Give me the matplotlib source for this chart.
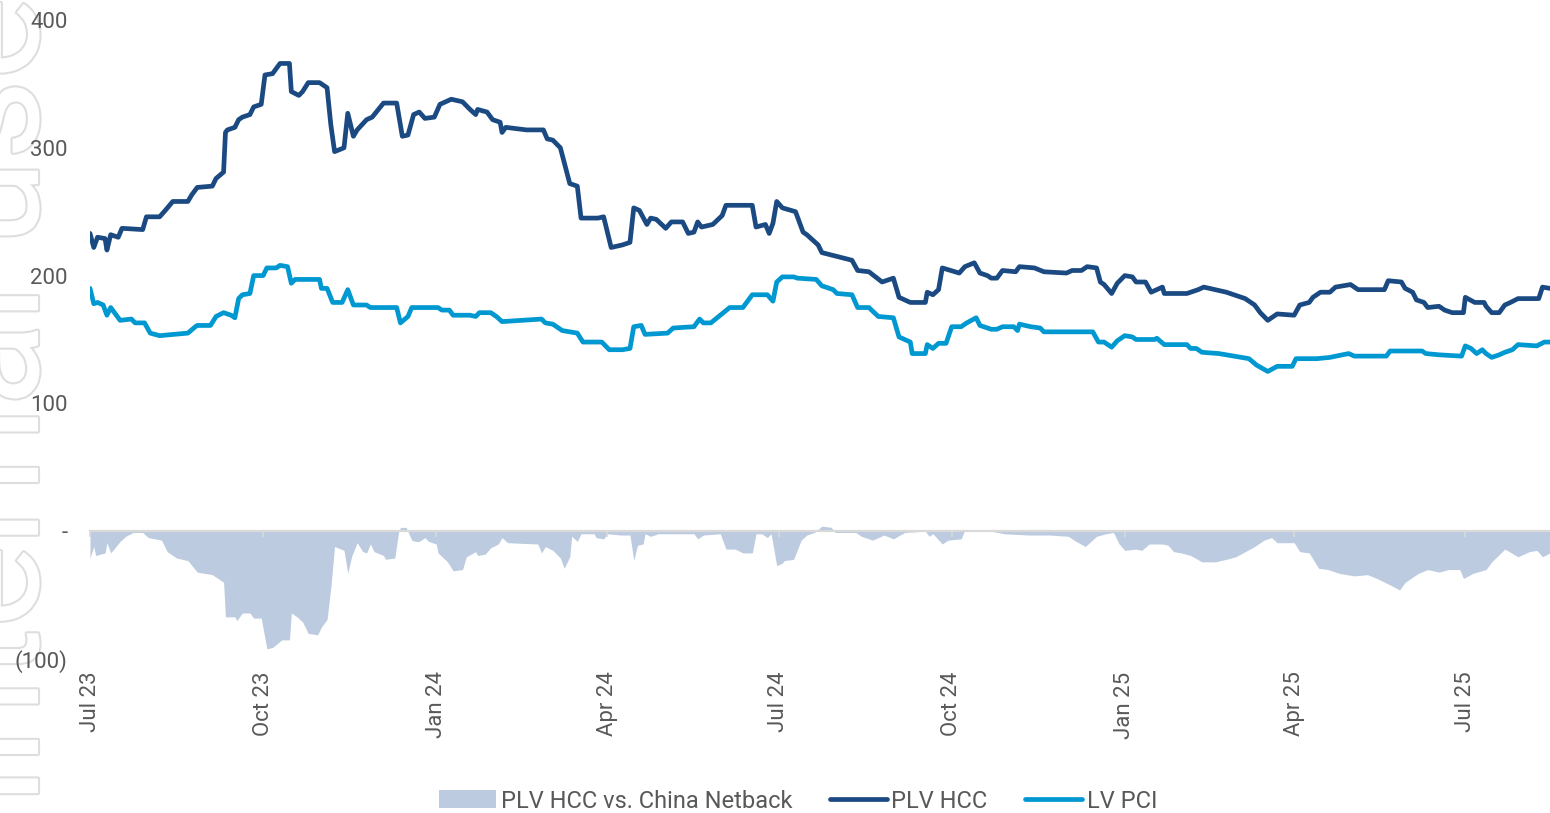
import numpy as np
import pandas as pd
import matplotlib
matplotlib.use("Agg")
import matplotlib.pyplot as plt
import matplotlib.patheffects as pe
from matplotlib.ticker import FuncFormatter
from matplotlib.lines import Line2D
from matplotlib.patches import Patch

# series are given as (days since 1 Jul 2023, value)
start = pd.Timestamp("2023-07-01")
end_day = 776

hcc_days = [0, 2, 4, 8, 9, 11, 15, 17, 28, 30, 37, 40, 44, 52, 54, 57, 65, 67, 71, 72,
            73, 77, 79, 81, 85, 87, 91, 93, 97, 99, 101, 106, 107, 111, 113, 116, 122, 126, 128, 130,
            135, 137, 140, 142, 147, 150, 156, 163, 166, 169, 172, 175, 178, 183, 186, 192, 198, 202, 205, 206,
            211, 214, 218, 219, 221, 232, 241, 243, 246, 250, 255, 259, 261, 270, 273, 277, 283, 287, 289, 292,
            296, 298, 301, 306, 309, 315, 318, 321, 323, 325, 331, 336, 338, 352, 354, 359, 361, 363, 365, 368,
            375, 379, 381, 387, 389, 397, 405, 408, 414, 421, 427, 430, 436, 444, 445, 448, 451, 453, 462, 465,
            470, 473, 477, 479, 482, 485, 492, 494, 502, 507, 519, 522, 527, 530, 535, 537, 539, 543, 546, 550,
            554, 556, 561, 564, 570, 571, 583, 589, 592, 598, 604, 614, 619, 622, 626, 631, 640, 643, 648, 650,
            654, 659, 662, 670, 674, 688, 690, 697, 699, 703, 705, 709, 711, 717, 720, 724, 730, 731, 736, 741,
            742, 745, 749, 752, 755, 759, 770, 772, 776]
hcc_vals = [233, 222, 230, 229, 220, 232, 230, 237, 236, 246, 246, 251, 258, 258, 263, 269, 270, 276, 281, 312,
            314, 316, 322, 324, 326, 332, 334, 357, 358, 362, 366, 366, 344, 341, 344, 351, 351, 347, 318, 297,
            300, 327, 309, 314, 322, 324, 335, 335, 309, 310, 326, 328, 323, 324, 334, 338, 336, 330, 326, 330,
            328, 322, 320, 312, 316, 314, 314, 307, 306, 300, 272, 270, 245, 245, 246, 222, 224, 226, 253, 251,
            240, 245, 244, 237, 242, 242, 233, 234, 242, 238, 240, 247, 255, 255, 238, 240, 233, 241, 258, 253,
            250, 234, 232, 224, 218, 215, 212, 204, 203, 195, 198, 183, 179, 179, 187, 185, 189, 206, 202, 207,
            210, 202, 200, 198, 198, 204, 203, 207, 206, 203, 202, 204, 204, 207, 206, 195, 193, 186, 194, 200,
            199, 195, 195, 187, 191, 186, 186, 189, 191, 189, 187, 182, 177, 171, 165, 170, 169, 177, 179, 183,
            187, 187, 191, 193, 189, 189, 196, 195, 190, 187, 181, 179, 175, 176, 173, 171, 171, 183, 179, 179,
            176, 171, 171, 177, 179, 182, 182, 191, 190]

pci_days = [0, 2, 4, 7, 9, 11, 13, 16, 22, 24, 29, 32, 37, 52, 56, 57, 64, 67, 71, 75,
            77, 79, 81, 85, 87, 92, 94, 99, 101, 105, 107, 109, 122, 123, 126, 129, 134, 137, 140, 147,
            149, 163, 165, 169, 171, 185, 187, 191, 193, 202, 205, 207, 213, 216, 219, 240, 242, 246, 251, 259,
            262, 272, 276, 283, 287, 289, 293, 295, 307, 310, 321, 324, 326, 330, 335, 340, 347, 352, 360, 363,
            365, 368, 374, 376, 386, 389, 395, 397, 405, 408, 414, 419, 427, 430, 436, 437, 444, 445, 448, 451,
            455, 458, 463, 466, 471, 473, 479, 482, 485, 491, 493, 494, 500, 505, 507, 533, 536, 539, 543, 546,
            550, 554, 556, 566, 567, 571, 583, 585, 588, 591, 600, 604, 616, 620, 626, 631, 639, 641, 652, 659,
            669, 672, 689, 691, 708, 710, 717, 729, 731, 734, 737, 740, 742, 745, 749, 752, 756, 759, 769, 773,
            776]
pci_vals = [190, 178, 179, 177, 169, 175, 171, 165, 166, 163, 163, 155, 153, 155, 160, 161, 161, 168, 171, 169,
            167, 182, 185, 186, 200, 200, 206, 206, 208, 207, 194, 197, 197, 190, 190, 179, 179, 189, 177, 177,
            175, 175, 163, 168, 175, 175, 173, 173, 169, 169, 168, 171, 171, 168, 164, 166, 163, 162, 157, 155,
            148, 148, 142, 142, 143, 160, 161, 154, 155, 159, 160, 166, 163, 163, 169, 175, 175, 185, 185, 180,
            195, 199, 199, 198, 197, 192, 189, 186, 185, 175, 175, 168, 167, 152, 148, 139, 139, 146, 143, 147,
            147, 160, 160, 163, 167, 161, 158, 158, 160, 160, 157, 162, 160, 159, 156, 156, 148, 148, 144, 149,
            153, 152, 150, 150, 151, 146, 146, 143, 143, 140, 139, 138, 135, 130, 125, 129, 129, 135, 135, 136,
            139, 137, 137, 141, 141, 139, 138, 137, 145, 143, 139, 142, 139, 136, 138, 140, 142, 146, 145, 148,
            148]

spread_days = [0, 2, 3, 8, 9, 11, 16, 19, 23, 28, 31, 38, 41, 46, 52, 57, 65, 71, 72, 77,
               78, 81, 85, 87, 91, 94, 97, 102, 106, 107, 110, 113, 116, 121, 123, 126, 128, 130, 135, 137,
               139, 142, 145, 147, 149, 151, 156, 157, 162, 164, 165, 168, 171, 173, 175, 178, 180, 184, 185, 190,
               193, 198, 200, 205, 206, 210, 213, 217, 219, 222, 238, 240, 242, 246, 250, 252, 255, 256, 259, 261,
               268, 269, 273, 275, 282, 287, 289, 291, 294, 295, 298, 302, 321, 323, 326, 335, 338, 343, 347, 352,
               354, 357, 360, 362, 365, 368, 369, 374, 378, 381, 385, 389, 394, 396, 407, 410, 416, 422, 427, 433,
               444, 446, 448, 453, 456, 463, 465, 479, 486, 499, 510, 520, 523, 529, 535, 540, 544, 547, 550, 556,
               559, 563, 570, 573, 576, 580, 585, 591, 598, 604, 609, 614, 619, 624, 628, 631, 640, 643, 648, 653,
               658, 664, 672, 679, 684, 691, 696, 699, 706, 711, 717, 722, 728, 730, 735, 742, 745, 752, 759, 765,
               769, 772, 776]
spread_vals = [-21, -12, -19, -17, -9, -17, -8, -4, -1, -1, -5, -7, -16, -21, -23, -32, -34, -40, -67, -67,
               -70, -64, -64, -68, -68, -92, -91, -85, -85, -64, -67, -71, -80, -81, -75, -69, -44, -12, -15, -33,
               -20, -9, -16, -17, -10, -16, -19, -22, -21, -1, 3, 3, -7, -8, -8, -5, -8, -10, -17, -24,
               -31, -30, -20, -16, -19, -18, -13, -10, -5, -9, -10, -17, -12, -15, -21, -29, -20, -4, -8, -2,
               -2, -5, -6, -2, -3, -3, -23, -11, -10, -2, -4, -2, -2, -6, -3, -2, -14, -14, -17, -17,
               -2, -2, -5, -2, -27, -25, -23, -22, -7, -3, -1, 4, 3, -1, -1, -4, -7, -3, -6, -1,
               0, -4, -2, -10, -7, -6, 1, 0, -2, -3, -3, -4, -7, -12, -4, -2, -1, -10, -15, -14,
               -15, -10, -10, -11, -16, -17, -19, -24, -24, -22, -20, -16, -12, -7, -5, -9, -9, -16, -17, -29,
               -30, -33, -35, -34, -37, -42, -46, -40, -33, -30, -32, -30, -30, -37, -33, -30, -24, -14, -20, -16,
               -15, -20, -17]

y_ticks = [-100, 0, 100, 200, 300, 400]
series_names = ["PLV HCC vs. China Netback", "PLV HCC", "LV PCI"]

c_area = "#BCCBDF"
c_hcc = "#1B4A82"
c_pci = "#0098D1"
c_text = "#595959"
c_axis = "#D9D9D9"

plt.rcParams["font.family"] = ["Roboto", "DejaVu Sans"]

hcc_x = start + pd.to_timedelta(hcc_days, unit="D")
pci_x = start + pd.to_timedelta(pci_days, unit="D")
spread_x = start + pd.to_timedelta(spread_days, unit="D")

fig = plt.figure(figsize=(15.5, 8.13), dpi=100)
ax = fig.add_axes([90 / 1550, 1 - 659 / 813, 1 - 90 / 1550, (659 - 20) / 813])
ax.set_facecolor("none")

ax.fill_between(spread_x, spread_vals, 0, color=c_area, linewidth=0, zorder=1)
ax.plot(hcc_x, hcc_vals, color=c_hcc, lw=3.4, solid_joinstyle="round", solid_capstyle="round", zorder=3)
ax.plot(pci_x, pci_vals, color=c_pci, lw=3.4, solid_joinstyle="round", solid_capstyle="round", zorder=3)

ax.set_ylim(-100, 400)
ax.set_xlim(start, start + pd.Timedelta(days=end_day))
ax.set_yticks(y_ticks)


def fmt(v, pos):
    if v == 0:
        return "-"
    if v < 0:
        return f"({abs(v):.0f})"
    return f"{v:.0f}"


ax.yaxis.set_major_formatter(FuncFormatter(fmt))

quarters = pd.date_range("2023-07-01", "2025-07-01", freq="QS-JUL")
ax.set_xticks(quarters)
ax.set_xticklabels([d.strftime("%b %y") for d in quarters])

for s in ["top", "right", "left"]:
    ax.spines[s].set_visible(False)
ax.spines["bottom"].set_position(("data", 0))
ax.spines["bottom"].set_color(c_axis)
ax.spines["bottom"].set_linewidth(1.6)
ax.spines["bottom"].set_zorder(2)

ax.tick_params(axis="y", length=0, pad=16, labelsize=16, labelcolor=c_text)
ax.tick_params(axis="x", length=4, width=1.2, color=c_axis, direction="out", pad=97,
               labelsize=16, labelcolor=c_text, labelrotation=90)
for lab in ax.get_xticklabels():
    lab.set_va("top")
    lab.set_ha("center")

# faint watermark
fig.text(70 / 1550, 6 / 813, "Internal use", rotation=90, ha="right", va="bottom",
         fontsize=112, color="white", zorder=-1,
         path_effects=[pe.withStroke(linewidth=3, foreground="#DEDEDE")])

handles = [Patch(facecolor=c_area, edgecolor="none"),
           Line2D([], [], color=c_hcc, lw=3.4, solid_capstyle="round"),
           Line2D([], [], color=c_pci, lw=3.4, solid_capstyle="round")]
fig.legend(handles, series_names, loc="center", bbox_to_anchor=(0.515, 1 - 801 / 813), ncol=3,
           frameon=False, fontsize=17, labelcolor=c_text, handlelength=2.4, handleheight=0.8,
           handletextpad=0.2, columnspacing=1.6)

fig.savefig("out.png", dpi=100)
